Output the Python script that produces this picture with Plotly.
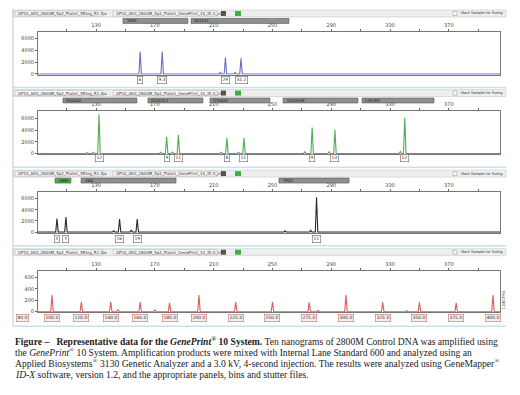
import plotly.graph_objects as go

# page has an 8px body margin; figure sized to fit the 520x395 window
OFF = 8
W, H = 520 - 2 * OFF, 395 - 2 * OFF

# ---------------- data ----------------
x_tick_start, x_tick_step, x_minor_step = 130, 40, 20
dye_y_ticks = [0, 2000, 4000, 6000]
ils_y_ticks = [0, 200, 400, 600]

blue_loci = ["TH01", "D21S11"]
blue_bins = [(148.3, 192.5), (194.6, 261.2)]
blue_alleles = ["6", "9.3", "29", "31.2"]
blue_sizes = [160.0, 175.0, 218.0, 228.6]
blue_heights = [3830, 3780, 2780, 2670]
blue_minor_sizes = [214.5, 224.5]
blue_minor_heights = [250, 250]

green_loci = ["D5S818", "D13S317", "D7S820", "D16S539", "CSF1PO"]
green_bins = [(107.5, 157.8), (165.3, 202.7), (207.5, 248.3), (257.2, 308.2), (310.9, 359.9)]
green_alleles = ["12", "9", "11", "8", "11", "9", "13", "12"]
green_sizes = [132.0, 178.0, 186.0, 219.0, 230.6, 277.0, 292.5, 340.0]
green_heights = [6670, 2830, 3170, 2670, 2620, 4450, 4050, 6110]
green_minor_sizes = [124.0, 128.0, 174.0, 182.0, 215.0, 227.0, 272.0, 288.5, 337.0]
green_minor_heights = [150, 200, 200, 250, 200, 200, 300, 300, 350]

yellow_loci = ["AMEL", "vWA", "TPOX"]
yellow_bins = [(102.1, 112.9), (119.8, 184.4), (254.4, 302.1)]
yellow_alleles = ["X", "Y", "16", "19", "11"]
yellow_sizes = [103.4, 109.5, 146.0, 158.0, 280.0]
yellow_heights = [2440, 2720, 2330, 2330, 6220]
yellow_minor_sizes = [142.0, 154.0, 258.5, 276.0]
yellow_minor_heights = [250, 400, 250, 350]

ils_labels = ["80.0", "100.0", "120.0", "140.0", "160.0", "180.0", "200.0", "225.0",
              "250.0", "275.0", "300.0", "325.0", "350.0", "375.0", "400.0"]
ils_sizes = [80, 100, 120, 140, 160, 180, 200, 225, 250, 275, 300, 325, 350, 375, 400]
ils_heights = [0, 290, 170, 170, 170, 155, 290, 170, 170, 165, 290, 165, 165, 155, 290]
ils_minor_sizes = [145.0, 170.0, 281.0, 341.5]
ils_minor_heights = [40, 30, 20, 20]

# ---------------- geometry helpers (window pixels -> paper) ----------------
def px(x):
    return (x - OFF) / W

def py(y):
    return 1 - (y - OFF) / H

X_RANGE = [90.5, 404.8]
XDOM = [px(38), px(500)]

def bp_to_paper(bp):
    # same linear scale as the x axes (used for labels lying outside the axis range)
    return XDOM[0] + (bp - X_RANGE[0]) / (X_RANGE[1] - X_RANGE[0]) * (XDOM[1] - XDOM[0])

panels = [
    dict(top=32, bot=75, hdr=10, bins=18.5, lab=80, yr=[-120, 7170], yt=dye_y_ticks, col="#6a6ec4"),
    dict(top=112, bot=155, hdr=90, bins=98.5, lab=159, yr=[-120, 7170], yt=dye_y_ticks, col="#4cae4c"),
    dict(top=193, bot=234, hdr=171, bins=179, lab=240, yr=[-120, 7170], yt=dye_y_ticks, col="#2b2b2b"),
    dict(top=272, bot=314, hdr=250, bins=None, lab=320, yr=[-12, 720], yt=ils_y_ticks, col="#e05a5a"),
]

series = [
    (blue_sizes, blue_heights, blue_minor_sizes, blue_minor_heights),
    (green_sizes, green_heights, green_minor_sizes, green_minor_heights),
    (yellow_sizes, yellow_heights, yellow_minor_sizes, yellow_minor_heights),
    (ils_sizes, ils_heights, ils_minor_sizes, ils_minor_heights),
]
labels = [blue_alleles, green_alleles, yellow_alleles, ils_labels]
label_pos = [blue_sizes, green_sizes, yellow_sizes, ils_sizes]
loci = [(blue_loci, blue_bins), (green_loci, green_bins), (yellow_loci, yellow_bins), None]

HW = 0.85  # half width of a peak in bp

def trace_xy(sizes, heights, msizes, mheights):
    pk = sorted(list(zip(sizes, heights)) + list(zip(msizes, mheights)))
    xs, ys = [X_RANGE[0]], [0]
    for s, h in pk:
        if s - HW < X_RANGE[0]:
            continue
        xs += [s - HW, s, s + HW]
        ys += [0, h, 0]
    xs.append(X_RANGE[1])
    ys.append(0)
    return xs, ys

fig = go.Figure()
shapes = []
annotations = []

for i, p in enumerate(panels):
    n = "" if i == 0 else str(i + 1)
    xs, ys = trace_xy(*series[i])
    fig.add_trace(go.Scatter(x=xs, y=ys, mode="lines", xaxis="x" + n, yaxis="y" + n,
                             line=dict(color=p["col"], width=1.1), hoverinfo="skip",
                             showlegend=False))
    fig.layout["xaxis" + n] = dict(
        domain=XDOM, range=X_RANGE, anchor="y" + n, side="top",
        tick0=x_tick_start, dtick=x_tick_step, ticks="outside", ticklen=2,
        minor=dict(dtick=x_minor_step, tick0=x_tick_start, ticks="outside", ticklen=2,
                   tickcolor="#666", showgrid=False),
        tickcolor="#666", tickfont=dict(size=5, color="#444", family="DejaVu Sans"),
        showline=True, linecolor="#777", linewidth=1, mirror=True,
        showgrid=False, zeroline=False, fixedrange=True)
    fig.layout["yaxis" + n] = dict(
        domain=[py(p["bot"]), py(p["top"])], range=p["yr"], anchor="x" + n,
        tickvals=p["yt"], ticks="outside", ticklen=2, tickcolor="#666",
        tickfont=dict(size=5, color="#444", family="DejaVu Sans"),
        showline=True, linecolor="#777", linewidth=1, mirror=True,
        showgrid=False, zeroline=False, fixedrange=True)

    # header bar
    hy0, hy1 = p["hdr"], p["hdr"] + 7
    shapes.append(dict(type="rect", xref="paper", yref="paper", x0=px(13), x1=px(506),
                       y0=py(hy1), y1=py(hy0), fillcolor="#eeeeee", line=dict(color="#c8c8c8", width=0.6)))
    shapes.append(dict(type="rect", xref="paper", yref="paper", x0=px(15), x1=px(103),
                       y0=py(hy1 - 1), y1=py(hy0 + 1), fillcolor="#f8f8f8", line=dict(color="#aaaaaa", width=0.5)))
    shapes.append(dict(type="rect", xref="paper", yref="paper", x0=px(113), x1=px(217),
                       y0=py(hy1 - 1), y1=py(hy0 + 1), fillcolor="#f8f8f8", line=dict(color="#aaaaaa", width=0.5)))
    shapes.append(dict(type="rect", xref="paper", yref="paper", x0=px(221), x1=px(226),
                       y0=py(hy1 - 1), y1=py(hy0 + 1), fillcolor="#555555", line=dict(width=0)))
    shapes.append(dict(type="rect", xref="paper", yref="paper", x0=px(235), x1=px(241),
                       y0=py(hy1 - 1), y1=py(hy0 + 1), fillcolor="#3cb043", line=dict(width=0)))
    shapes.append(dict(type="rect", xref="paper", yref="paper", x0=px(453), x1=px(457),
                       y0=py(hy1 - 1.5), y1=py(hy0 + 1.5), fillcolor="#ffffff", line=dict(color="#888", width=0.5)))
    annotations.append(dict(x=px(16), y=py(hy0 + 3.5), xref="paper", yref="paper", xanchor="left",
                            yanchor="middle", showarrow=False,
                            text="GP10_AK0_2800M_5p2_Plate1_5Ring_R1.fsa",
                            font=dict(size=4, color="#333", family="DejaVu Sans")))
    annotations.append(dict(x=px(114), y=py(hy0 + 3.5), xref="paper", yref="paper", xanchor="left",
                            yanchor="middle", showarrow=False,
                            text="GP10_AK0_2800M_5p2_Plate1_GenePrint_10_ID-X_v1",
                            font=dict(size=4, color="#333", family="DejaVu Sans")))
    annotations.append(dict(x=px(459), y=py(hy0 + 3.5), xref="paper", yref="paper", xanchor="left",
                            yanchor="middle", showarrow=False, text="Mark Sample for Sizing",
                            font=dict(size=3.6, color="#333", family="DejaVu Sans")))

    # locus bins
    if loci[i] is not None:
        names, bins = loci[i]
        for name, (b0, b1) in zip(names, bins):
            amel = name == "AMEL"
            shapes.append(dict(type="rect", xref="x" + n, yref="paper", x0=b0, x1=b1,
                               y0=py(p["bins"] + 5), y1=py(p["bins"]),
                               fillcolor="#4cae4c" if amel else "#8f8f8f",
                               line=dict(color="#555", width=0.6)))
            annotations.append(dict(x=b0 + 1, y=py(p["bins"] + 2.5), xref="x" + n, yref="paper",
                                    xanchor="left", yanchor="middle", showarrow=False, text=name,
                                    font=dict(size=3.8, color="#111", family="DejaVu Sans")))

    # allele / size labels
    ils = i == 3
    for t, s in zip(labels[i], label_pos[i]):
        inside = X_RANGE[0] <= s <= X_RANGE[1]
        annotations.append(dict(x=s if inside else bp_to_paper(s), y=py(p["lab"]),
                                xref=("x" + n) if inside else "paper", yref="paper",
                                xanchor="center", yanchor="middle", showarrow=False, text=t,
                                font=dict(size=4.5, color="#333", family="DejaVu Sans"),
                                bgcolor="#fbecec" if ils else "#ffffff",
                                bordercolor="#c97070" if ils else "#666666",
                                borderwidth=0.6, borderpad=0.8))

    # separator under panel
    sep = [88, 168, 247, 328][i]
    shapes.append(dict(type="line", xref="paper", yref="paper", x0=px(13), x1=px(506),
                       y0=py(sep), y1=py(sep), line=dict(color="#c5e3e8", width=1.5)))

# window left border
shapes.append(dict(type="line", xref="paper", yref="paper", x0=px(13), x1=px(13),
                   y0=py(328), y1=py(9), line=dict(color="#c8c8c8", width=1)))

annotations.append(dict(x=px(508), y=py(313), xref="paper", yref="paper", showarrow=False,
                        text="13407MA", textangle=-90,
                        font=dict(size=4, color="#444", family="DejaVu Sans")))

# caption
cap = [
    "<b>Figure –\u00a0\u00a0\u00a0Representative data for the <i>GenePrint</i><sup>®</sup> 10 System.</b> "
    "Ten nanograms of 2800M Control DNA was amplified using",
    "the <i>GenePrint</i><sup>®</sup> 10 System. Amplification products were mixed with Internal "
    "Lane Standard 600 and analyzed using an",
    "Applied Biosystems<sup>®</sup> 3130 Genetic Analyzer and a 3.0 kV, 4-second injection. "
    "The results were analyzed using GeneMapper<sup>®</sup>",
    "<i>ID-X</i> software, version 1.2, and the appropriate panels, bins and stutter files.",
]
for k, line in enumerate(cap):
    annotations.append(dict(x=px(13), y=py(343 + 11 * k), xref="paper", yref="paper",
                            xanchor="left", yanchor="middle", showarrow=False, text=line,
                            font=dict(size=9.6, color="#222", family="Liberation Serif")))

fig.update_layout(width=W, height=H, margin=dict(l=0, r=0, t=0, b=0),
                  paper_bgcolor="white", plot_bgcolor="white",
                  shapes=shapes, annotations=annotations, showlegend=False)

fig.write_html("out.html")
